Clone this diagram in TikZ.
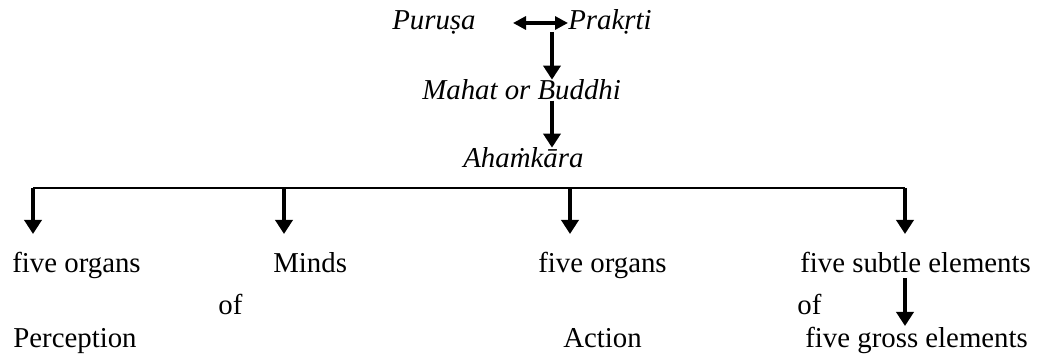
\documentclass[tikz,border=0pt]{standalone}
\usepackage{fontspec}
\setmainfont{Liberation Serif}
\usepackage{tikz}
\usetikzlibrary{arrows.meta,positioning}
\tikzset{
  flow/.style={-{Triangle[length=0.28cm,width=0.34cm]},line width=2pt},
  bothflow/.style={{Triangle[length=0.26cm,width=0.26cm]}-{Triangle[length=0.26cm,width=0.26cm]},line width=1.8pt},
  branch/.style={line width=1.1pt},
  term/.style={inner sep=0pt,anchor=base west,font=\fontsize{16.4}{19}\selectfont\itshape},
  plain/.style={inner sep=0pt,anchor=base west,font=\fontsize{16.4}{19}\selectfont}
}

\begin{document}
\begin{tikzpicture}
\useasboundingbox (0,0) rectangle (20.74,7.1);
% upper chain
\node[term] (purusa) at (7.84,6.5) {Puruṣa};
\node[term] (prakrti) at (11.36,6.5) {Prakṛti};
\node[term] (mahat) at (8.44,5.1) {Mahat or Buddhi};
\node[term] (ahamkara) at (9.26,3.74) {Ahaṁkāra};
\coordinate (pleft) at (10.26,6.64);
\coordinate (pmid) at (11.04,6.46);
\draw[bothflow] (pleft) -- (pleft -| prakrti.west);
\draw[flow] (pmid) -- (pmid |- mahat.north);
\draw[flow] (pmid |- mahat.south) -- (pmid |- ahamkara.north);
% branches
\foreach \n/\x in {a/0.66,b/5.68,c/11.4,d/18.1}{
  \coordinate (top\n) at (\x,3.34);
  \coordinate (end\n) at (\x,2.42);
}
\draw[branch] (topa) -- (topd);
\foreach \n in {a,b,c,d}{
  \draw[flow] (top\n) -- (end\n);
}
% lower row
\node[plain] (perorg) at (0.24,1.64) {five organs};
\node[plain] (minds) at (5.46,1.64) {Minds};
\node[plain] (actorg) at (10.76,1.64) {five organs};
\node[plain] (subtle) at (16.0,1.64) {five subtle elements};
\node[plain] (ofa) at (4.36,0.8) {of};
\node[plain] (ofb) at (15.94,0.8) {of};
\node[plain] (percep) at (0.26,0.14) {Perception};
\node[plain] (action) at (11.26,0.14) {Action};
\node[plain] (gross) at (16.1,0.14) {five gross elements};
\coordinate (sfrom) at (18.1,1.54);
\coordinate (sto) at (18.1,0.58);
\draw[flow] (sfrom) -- (sto);
\end{tikzpicture}
\end{document}
